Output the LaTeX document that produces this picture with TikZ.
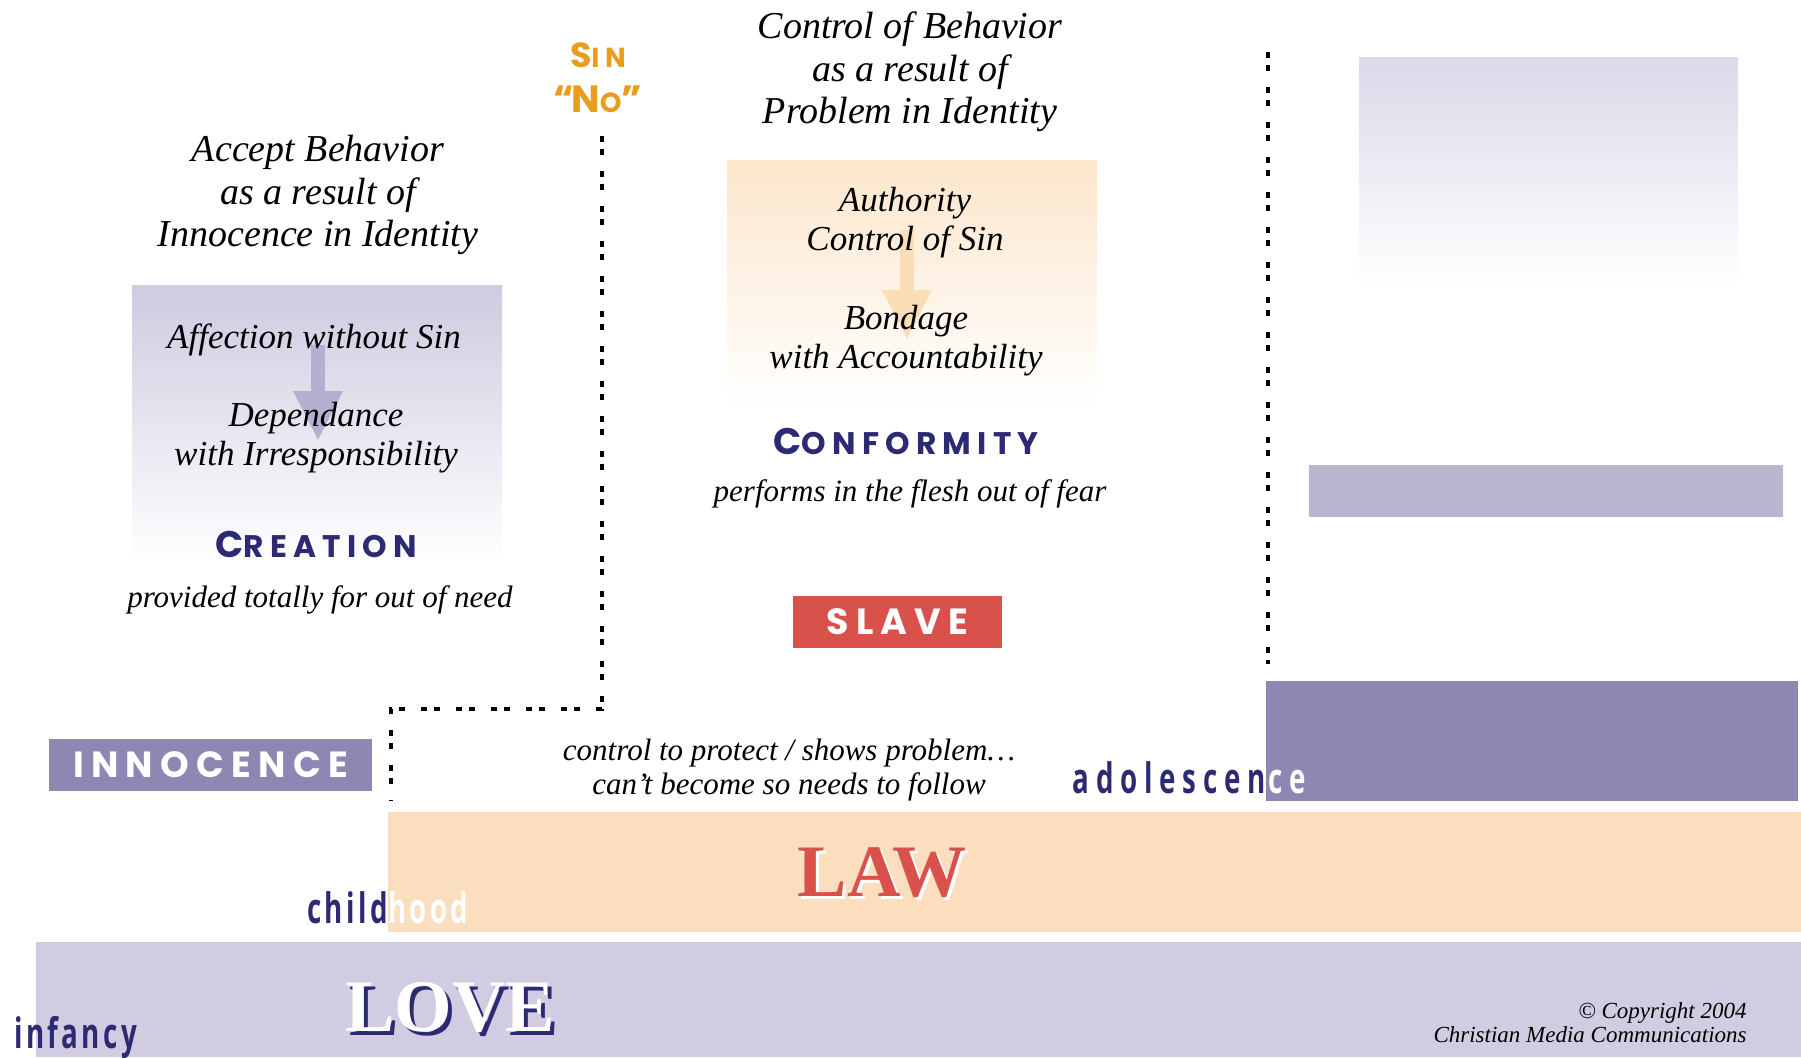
\documentclass[tikz,border=0pt]{standalone}
\usepackage{fontspec}
\setmainfont{Liberation Serif}
\newfontfamily\capsfont{Poppins}[LetterSpace=20]
\newfontfamily\agefont{Open Sans}[FakeStretch=0.66]
\usetikzlibrary{arrows.meta}
\definecolor{navy}{HTML}{2B2A72}
\definecolor{lilac}{HTML}{8F87B3}
\definecolor{lilacmid}{HTML}{BAB4CF}
\definecolor{lovefill}{HTML}{D1CCE2}
\definecolor{lawfill}{HTML}{FADEBE}
\definecolor{slavered}{HTML}{D9514B}
\definecolor{sinorange}{HTML}{E89D1F}
\definecolor{lilacpale}{HTML}{CFCAE0}
\definecolor{peachpale}{HTML}{FCE6CC}
\definecolor{mistpale}{HTML}{DCD8E9}
\definecolor{arrowlilac}{HTML}{B5B0D0}
\definecolor{arrowpeach}{HTML}{FBDDB6}
\newcommand{\capword}[2]{{\fontsize{18.5}{18.5}\selectfont #1}{\fontsize{15.6}{15.6}\selectfont #2}}
\tikzset{every node/.style={inner sep=0pt},
  big/.style={font=\itshape\fontsize{19}{21.3}\selectfont,align=center},
  inner/.style={font=\itshape\fontsize{17.5}{19.5}\selectfont,align=center},
  note/.style={font=\itshape\fontsize{15.5}{16.7}\selectfont,align=center},
  heading/.style={font=\capsfont\bfseries,text=navy},
  tagbox/.style={font=\capsfont\bfseries\fontsize{18.2}{18.2}\selectfont,text=white,minimum height=26pt},
  age/.style={font=\agefont\bfseries\fontsize{21}{21}\selectfont},
  stamp/.style={font=\bfseries\fontsize{37}{37}\selectfont},
  boundary/.style={line width=1.6pt,dash pattern=on 3pt off 3.5pt on 3pt off 8pt},
  blockarrow/.style={line width=7pt,-{Triangle[width=23pt,length=25pt]}}}
\begin{document}
\begin{tikzpicture}[x=0.5pt,y=-0.5pt]
    \useasboundingbox (0,0) rectangle (1801,1057);
    \fill[lovefill] (36,942) rectangle (1801,1057);
    \fill[lawfill] (388,812) rectangle (1801,932);
    \fill[lilac] (1266,681) rectangle (1798,801);
    \fill[lilacmid] (1309,465) rectangle (1783,517);
    \shade[top color=mistpale,bottom color=white] (1359,57) rectangle (1738,287);
    \shade[top color=lilacpale,bottom color=white] (132,285) rectangle (502,563);
    \shade[top color=peachpale,bottom color=white] (727,160) rectangle (1097,408);

    \coordinate (affect) at (318,345);
    \coordinate (depend) at (318,441);
    \coordinate (authority) at (907,230);
    \coordinate (bondage) at (907,340);
    \draw[blockarrow,arrowlilac] (affect) -- (depend);
    \draw[blockarrow,arrowpeach] (authority) -- (bondage);

    \coordinate (sintop) at (602,136);
    \coordinate (sinfoot) at (602,709);
    \coordinate (lawcorner) at (391,709);
    \coordinate (lawfoot) at (391,801);
    \coordinate (gracetop) at (1268,52);
    \coordinate (gracefoot) at (1268,664);
    \draw[boundary] (sintop) -- (sinfoot) -- (lawcorner) -- (lawfoot);
    \draw[boundary] (gracetop) -- (gracefoot);

    \node[big] (accept) at (318,195) {Accept Behavior\\as a result of\\Innocence in Identity};
    \node[big] (control) at (910,72) {Control of Behavior\\as a result of\\Problem in Identity};
    \node[inner] (affection) at (314,340) {Affection without Sin};
    \node[inner] (dependance) at (316,438) {Dependance\\with Irresponsibility};
    \node[inner] (authority text) at (905,223) {Authority\\Control of Sin};
    \node[inner] (bondage text) at (906,341) {Bondage\\with Accountability};
    \node[heading] (creation) at (316,544) {\capword{C}{REATION}};
    \node[heading] (conformity) at (906,441) {\capword{C}{ONFORMITY}};
    \node[note] (provided) at (320,600) {provided totally for out of need};
    \node[note] (performs) at (910,494) {performs in the flesh out of fear};
    \node[note] (protect) at (789,770) {control to protect / shows problem…\\can’t become so needs to follow};
    \node[heading,text=sinorange,font=\capsfont\bfseries\fontsize{17.4}{17.4}\selectfont] (sin) at (598,55)
      {S{\fontsize{13.8}{13.8}\selectfont IN}};
    \node[heading,text=sinorange,font=\capsfont\bfseries\fontsize{19}{19}\selectfont] (no) at (598,99)
      {“\kern-1.5pt N{\fontsize{13.8}{13.8}\selectfont O}”};

    \node[tagbox,fill=lilac,minimum width=161.5pt] (innocence) at (210.5,765) {INNOCENCE};
    \node[tagbox,fill=slavered,minimum width=104.5pt] (slave) at (897.5,622) {SLAVE};

    \node[stamp,text=white] (law shadow) at (885,876) {LAW};
    \node[stamp,text=slavered] (law) at (882,873) {LAW};
    \node[stamp,text=navy] (love shadow) at (454,1012) {LOVE};
    \node[stamp,text=white] (love) at (450,1008) {LOVE};

    \node[age,text=navy,anchor=base west,font=\agefont\bfseries\fontsize{21}{21}\selectfont\addfontfeature{LetterSpace=8}] (infancy) at (14,1048) {infancy};
    \node[age,text=navy,anchor=base east,font=\agefont\bfseries\fontsize{21}{21}\selectfont\addfontfeature{LetterSpace=8}] (child) at (388,923) {child};
    \node[age,text=white,anchor=base west,font=\agefont\bfseries\fontsize{21}{21}\selectfont\addfontfeature{LetterSpace=8}] (hood) at (388,923) {hood};
    \node[age,text=navy,anchor=base east,font=\agefont\bfseries\fontsize{21}{21}\selectfont\addfontfeature{LetterSpace=16}] (adolescen) at (1266,793) {adolescen};
    \node[age,text=white,anchor=base west,font=\agefont\bfseries\fontsize{21}{21}\selectfont\addfontfeature{LetterSpace=16}] (ce) at (1268,793) {ce};

    \node[font=\itshape\fontsize{11.5}{12}\selectfont,align=right,anchor=east] (copyright) at (1747,1023)
      {\textcopyright{} Copyright 2004\\Christian Media Communications};
\end{tikzpicture}
\end{document}
